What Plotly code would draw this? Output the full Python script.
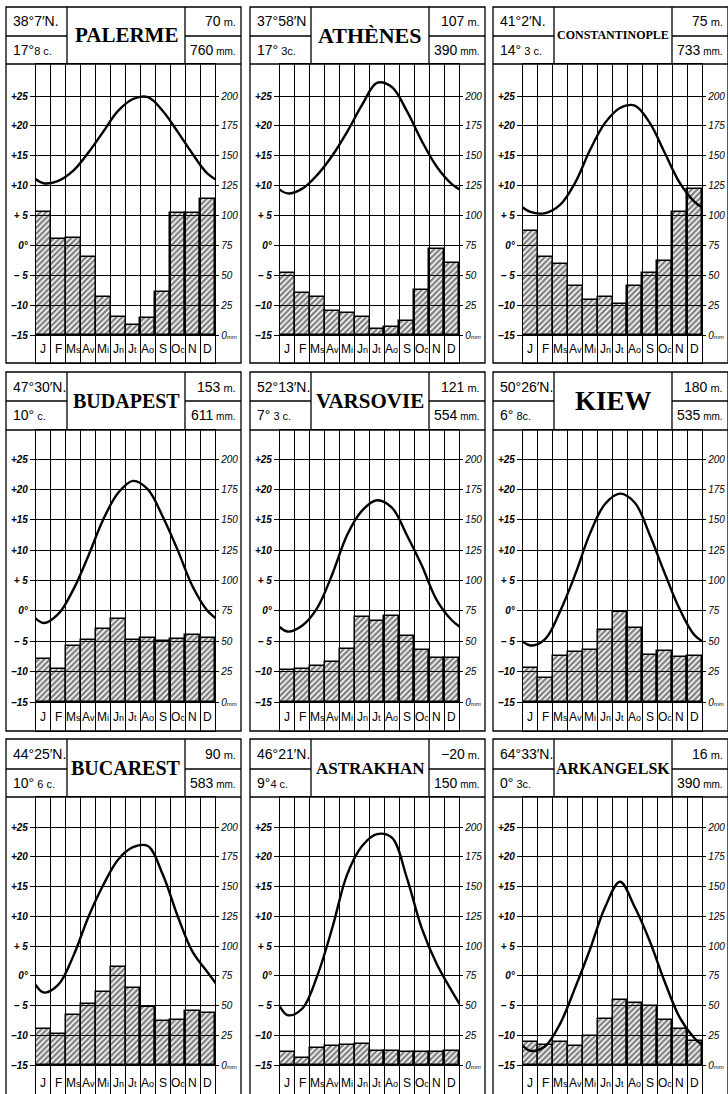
import plotly.graph_objects as go

W, H = 728, 1094

# ---------------- data ----------------
months = ["J", "F", "Ms", "Av", "Mi", "Jn", "Jt", "Ao", "S", "Oc", "N", "D"]
cities = ["PALERME", "ATHÈNES", "CONSTANTINOPLE", "BUDAPEST", "VARSOVIE",
          "KIEW", "BUCAREST", "ASTRAKHAN", "ARKANGELSK"]
latitudes = ["38°7′N.", "37°58′N", "41°2′N.", "47°30′N.", "52°13′N.",
             "50°26′N.", "44°25′N.", "46°21′N.", "64°33′N."]
mean_temp_deg = ["17°", "17°", "14°", "10°", "7°", "6°", "10°", "9°", "0°"]
mean_temp_tenth = ["8 c.", " 3c.", " 3 c.", " c.", " 3 c.", " 8c.", " 6 c.", "4 c.", " 3c."]
altitudes = ["70", "107", "75", "153", "121", "180", "90", "−20", "16"]
annual_precip = ["760", "390", "733", "611", "554", "535", "583", "150", "390"]

temp_palerme = [10.4, 10.8, 12.5, 15.5, 19.0, 22.5, 24.5, 24.8, 22.5, 19.0, 15.3, 12.0]
precip_palerme = [103, 80, 81, 65, 32, 15, 8, 14, 36, 102, 102, 114]

temp_athenes = [8.7, 9.5, 11.8, 15.0, 19.0, 23.5, 27.2, 26.5, 22.5, 17.5, 13.2, 10.3]
precip_athenes = [52, 35, 32, 20, 18, 15, 5, 7, 12, 38, 72, 60]

temp_constantinople = [5.6, 5.4, 6.8, 10.5, 16.0, 20.5, 23.0, 23.4, 20.5, 15.5, 10.5, 7.3]
precip_constantinople = [87, 65, 59, 41, 29, 32, 26, 41, 52, 62, 103, 122]

temp_budapest = [-2.0, -0.5, 3.5, 9.0, 15.0, 19.4, 21.4, 20.0, 15.5, 10.0, 4.0, 0.0]
precip_budapest = [35, 27, 46, 51, 60, 68, 51, 53, 50, 52, 55, 53]

temp_varsovie = [-3.4, -2.4, 0.5, 6.0, 12.5, 16.5, 18.2, 17.0, 12.5, 7.5, 1.8, -1.5]
precip_varsovie = [26, 27, 30, 33, 44, 70, 67, 71, 54, 43, 36, 36]

temp_kiew = [-5.7, -4.6, 0.0, 6.0, 12.8, 17.6, 19.3, 17.8, 12.5, 6.2, 0.3, -4.0]
precip_kiew = [28, 20, 38, 41, 43, 59, 74, 61, 39, 42, 37, 38]

temp_bucarest = [-2.8, -1.5, 3.3, 9.8, 15.2, 19.5, 21.6, 21.8, 17.0, 10.0, 4.0, 0.6]
precip_bucarest = [30, 26, 42, 51, 61, 82, 65, 49, 37, 38, 45, 44]

temp_astrakhan = [-6.6, -5.5, 0.0, 8.0, 17.0, 21.8, 23.8, 23.2, 16.5, 8.0, 2.0, -2.5]
precip_astrakhan = [11, 6, 14, 16, 17, 18, 12, 12, 11, 11, 11, 12]

temp_arkangelsk = [-12.6, -11.8, -8.0, -2.0, 4.5, 11.5, 15.8, 11.5, 5.8, -1.0, -7.0, -10.5]
precip_arkangelsk = [19, 17, 19, 16, 24, 39, 55, 52, 50, 38, 30, 20]

temps = [temp_palerme, temp_athenes, temp_constantinople, temp_budapest, temp_varsovie,
         temp_kiew, temp_bucarest, temp_astrakhan, temp_arkangelsk]
precips = [precip_palerme, precip_athenes, precip_constantinople, precip_budapest,
           precip_varsovie, precip_kiew, precip_bucarest, precip_astrakhan, precip_arkangelsk]

temp_tickvals = [-15, -10, -5, 0, 5, 10, 15, 20, 25]
temp_ticktext = ["–15", "–10", "– 5", "0°", "+ 5", "+10", "+15", "+20", "+25"]
precip_tickvals = [0, 25, 50, 75, 100, 125, 150, 175, 200]
precip_ticktext = ["0<span style='font-size:6px'>mm</span>", "25", "50", "75", "100",
                   "125", "150", "175", "200"]

# ---------------- styling / geometry ----------------
name_sizes = [21, 22, 12, 20, 21, 27, 20, 17, 16]
SANS = "Liberation Sans"
SERIF = "Liberation Serif"
rows = [dict(top=7, mid=36, hb=64, p25=96, m15=335, bot=363),
        dict(top=372, mid=401, hb=430, p25=459, m15=702, bot=731),
        dict(top=739, mid=769, hb=797, p25=827, m15=1065, bot=1100)]
col_gl = [36, 280, 523]
GW = 179
LW = 1.3


def small(txt, size):
    return f"<span style='font-size:{size}px'>{txt}</span>"


month_disp = [m[0] + (small(m[1:], 9) if len(m) > 1 else "") for m in months]

fig = go.Figure()
shapes, annotations = [], []
layout = dict()


def py(y):
    return 1 - y / H


def px(x):
    return x / W


for i in range(9):
    r, c = divmod(i, 3)
    R = rows[r]
    gl = col_gl[c]
    ol, ls, ns, orr = gl - 30, gl + 31, gl + 149, gl + 205
    ybot = min(R["bot"], H)
    ppd = (R["m15"] - R["p25"]) / 40.0
    t_top = 25 + (R["p25"] - R["hb"]) / ppd
    t_bot = -15 - (ybot - R["m15"]) / ppd
    p_top, p_bot = (t_top + 15) * 5, (t_bot + 15) * 5

    xn = "x" if i == 0 else f"x{i + 1}"
    xkey = "xaxis" if i == 0 else f"xaxis{i + 1}"
    pn_i, tn_i = 2 * i + 1, 2 * i + 2
    pn = "y" if pn_i == 1 else f"y{pn_i}"
    pkey = "yaxis" if pn_i == 1 else f"yaxis{pn_i}"
    tn = f"y{tn_i}"
    tkey = f"yaxis{tn_i}"

    layout[xkey] = dict(domain=[px(gl), px(gl + GW)], range=[-0.5, 11.5], anchor=pn,
                        tickvals=[k - 0.5 for k in range(13)], showticklabels=False,
                        ticks="", showgrid=True, gridcolor="black", gridwidth=1,
                        zeroline=False, showline=True, mirror=True, linecolor="black",
                        linewidth=LW, fixedrange=True)
    layout[pkey] = dict(domain=[py(ybot), py(R["hb"])], range=[p_bot, p_top], anchor=xn,
                        side="right", tickvals=precip_tickvals, ticktext=precip_ticktext,
                        showgrid=False, zeroline=False, ticks="outside", ticklen=3,
                        tickcolor="black", showline=True, linecolor="black", linewidth=LW,
                        tickfont=dict(family=SANS, size=10, color="black", style="italic"),
                        fixedrange=True)
    layout[tkey] = dict(domain=[py(ybot), py(R["hb"])], range=[t_bot, t_top], anchor=xn,
                        overlaying=pn, side="left", tickvals=temp_tickvals,
                        ticktext=temp_ticktext, showgrid=True, gridcolor="black",
                        gridwidth=1, zeroline=False, ticks="outside", ticklen=5,
                        tickcolor="black", showline=True, linecolor="black", linewidth=LW,
                        tickfont=dict(family=SANS, size=10, color="black", style="italic",
                                      weight="bold"),
                        fixedrange=True)

    fig.add_trace(go.Bar(x=list(range(12)), y=precips[i], width=1, xaxis=xn, yaxis=pn,
                         marker=dict(color="rgba(255,255,255,0)",
                                     line=dict(color="black", width=1.5),
                                     pattern=dict(shape="/", fgcolor="#000",
                                                  bgcolor="rgba(255,255,255,0)",
                                                  size=4, solidity=0.6)),
                         showlegend=False, hoverinfo="skip"))
    T = temps[i]
    fig.add_trace(go.Scatter(x=[-1] + list(range(12)) + [12], y=[T[-1]] + T + [T[0]],
                             mode="lines", xaxis=xn, yaxis=tn,
                             line=dict(color="black", width=2.4, shape="spline", smoothing=1.0),
                             showlegend=False, hoverinfo="skip"))

    # month labels
    ylab = (R["m15"] + R["bot"]) / 2
    for k, m in enumerate(month_disp):
        annotations.append(dict(x=k, y=py(ylab), xref=xn, yref="paper", text=m,
                                showarrow=False, xanchor="center", yanchor="middle",
                                font=dict(family=SANS, size=12, color="black")))

    # header frame
    lw = dict(color="black", width=LW)
    shapes.append(dict(type="rect", xref="paper", yref="paper", x0=px(ol), x1=px(orr),
                       y0=py(R["bot"]), y1=py(R["top"]), line=lw))
    shapes.append(dict(type="line", xref="paper", yref="paper", x0=px(ol), x1=px(orr),
                       y0=py(R["hb"]), y1=py(R["hb"]), line=lw))
    for xs in (ls, ns):
        shapes.append(dict(type="line", xref="paper", yref="paper", x0=px(xs), x1=px(xs),
                           y0=py(R["hb"]), y1=py(R["top"]), line=lw))
    shapes.append(dict(type="line", xref="paper", yref="paper", x0=px(ol), x1=px(ls),
                       y0=py(R["mid"]), y1=py(R["mid"]), line=lw))
    shapes.append(dict(type="line", xref="paper", yref="paper", x0=px(ns), x1=px(orr),
                       y0=py(R["mid"]), y1=py(R["mid"]), line=lw))

    yc1 = (R["top"] + R["mid"]) / 2
    yc2 = (R["mid"] + R["hb"]) / 2
    f14 = dict(family=SANS, size=14, color="black")
    annotations += [
        dict(x=px(ol + 5), y=py(yc1), xref="paper", yref="paper", text=latitudes[i],
             showarrow=False, xanchor="left", yanchor="middle", font=f14),
        dict(x=px(ol + 5), y=py(yc2), xref="paper", yref="paper",
             text=mean_temp_deg[i] + small(mean_temp_tenth[i], 11),
             showarrow=False, xanchor="left", yanchor="middle", font=f14),
        dict(x=px(orr - 3), y=py(yc1), xref="paper", yref="paper",
             text=altitudes[i] + small(" m.", 11),
             showarrow=False, xanchor="right", yanchor="middle", font=f14),
        dict(x=px(orr - 3), y=py(yc2), xref="paper", yref="paper",
             text=annual_precip[i] + small(" mm.", 10),
             showarrow=False, xanchor="right", yanchor="middle", font=f14),
        dict(x=px((ls + ns) / 2), y=py((R["top"] + R["hb"]) / 2), xref="paper", yref="paper",
             text=cities[i], showarrow=False, xanchor="center", yanchor="middle",
             font=dict(family=SERIF, size=name_sizes[i], color="black", weight="bold")),
    ]

fig.update_layout(**layout)
fig.update_layout(width=W, height=H, autosize=False, margin=dict(l=0, r=0, t=0, b=0),
                  paper_bgcolor="white", plot_bgcolor="white", shapes=shapes,
                  annotations=annotations, showlegend=False, bargap=0)
fig.write_html("out.html", config={"displayModeBar": False},
               post_script="document.body.style.margin='0';")
